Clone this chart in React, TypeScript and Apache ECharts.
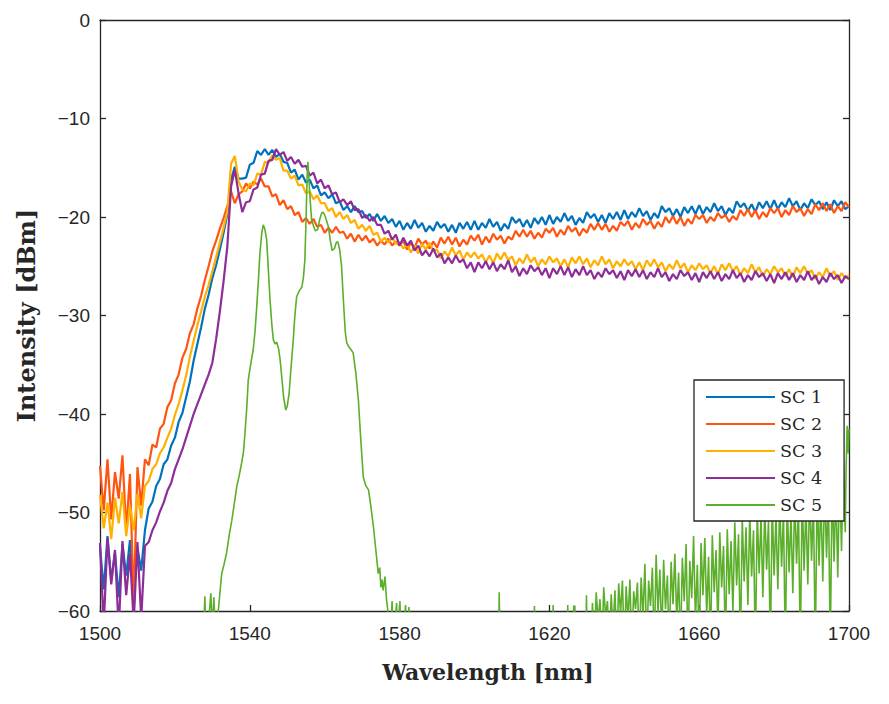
import * as echarts from "echarts";
import { useEffect, useRef } from "react";

// SC 1..4 are sampled every 1 nm from 1500 nm to 1700 nm
const gridStart = 1500;

const sc1 = [
  -53.5, -57.8, -52.4, -56.9, -54.1, -58.6, -53.2, -56.4, -52.8, -57.5,
  -53.6, -55.9, -51.8, -49.6, -48.9, -47.3, -46.6, -45.1, -44.6, -43.2,
  -42.4, -40.8, -39.9, -38.3, -36.7, -34.6, -32.9, -31.2, -29.3, -27.9,
  -26.2, -24.9, -23.3, -21.6, -19.7, -16.2, -14.9, -16.1, -16.1, -16.0,
  -14.7, -14.5, -13.3, -13.7, -13.1, -13.7, -13.2, -13.9, -13.6, -14.4,
  -14.5, -15.5, -15.2, -16.2, -15.7, -16.5, -16.2, -17.1, -16.8, -17.8,
  -17.5, -18.1, -17.7, -18.6, -18.4, -19.3, -18.9, -19.5, -18.9, -19.5,
  -19.4, -20.1, -19.7, -20.4, -19.7, -20.4, -19.9, -20.6, -20.2, -21.0,
  -20.4, -21.3, -20.6, -21.2, -20.3, -21.1, -20.6, -21.5, -20.9, -21.4,
  -20.5, -21.1, -20.7, -21.5, -20.8, -21.6, -20.6, -21.2, -20.5, -21.3,
  -20.4, -21.3, -20.6, -21.1, -20.2, -21.0, -20.5, -21.4, -20.7, -21.2,
  -20.0, -20.6, -20.2, -21.0, -20.3, -21.1, -20.1, -20.7, -20.0, -20.8,
  -19.8, -20.7, -20.0, -20.5, -19.6, -20.4, -19.9, -20.8, -20.1, -20.6,
  -19.5, -20.1, -19.7, -20.5, -19.8, -20.6, -19.6, -20.2, -19.5, -20.3,
  -19.3, -20.2, -19.5, -20.0, -19.1, -19.9, -19.4, -20.3, -19.6, -20.1,
  -18.9, -19.5, -19.1, -19.9, -19.2, -20.0, -19.0, -19.6, -18.9, -19.7,
  -18.8, -19.7, -19.0, -19.5, -18.6, -19.4, -18.9, -19.8, -19.1, -19.6,
  -18.4, -19.0, -18.6, -19.4, -18.7, -19.5, -18.5, -19.1, -18.4, -19.2,
  -18.3, -19.2, -18.5, -19.0, -18.1, -18.9, -18.4, -19.3, -18.6, -19.1,
  -18.2, -18.8, -18.4, -19.2, -18.5, -19.3, -18.3, -18.9, -18.4, -19.2,
  -18.9,
];

const sc2 = [
  -45.3, -49.8, -44.6, -50.7, -45.9, -48.6, -44.2, -51.9, -46.1, -59.4,
  -45.4, -49.3, -44.6, -45.2, -43.1, -43.4, -41.5, -41.0, -39.3, -38.6,
  -36.9, -36.0, -34.3, -33.4, -31.8, -30.9, -29.3, -28.0, -26.4, -25.0,
  -23.5, -22.4, -21.2, -20.1, -18.9, -17.4, -18.6, -17.7, -17.4, -16.6,
  -17.1, -16.4, -16.7, -16.1, -16.9, -16.9, -17.9, -17.7, -18.8, -18.3,
  -19.2, -18.9, -19.8, -19.5, -20.5, -20.1, -20.7, -20.2, -21.0, -20.8,
  -21.6, -21.1, -21.6, -21.0, -21.6, -21.5, -22.2, -21.7, -22.5, -21.8,
  -22.4, -21.9, -22.6, -22.2, -22.9, -22.4, -22.8, -22.2, -22.9, -22.5,
  -22.9, -22.4, -23.3, -22.6, -23.1, -22.2, -22.8, -22.4, -23.2, -22.5,
  -23.1, -22.1, -22.7, -22.0, -22.8, -22.1, -23.0, -22.3, -22.8, -21.9,
  -22.4, -21.8, -22.8, -22.0, -22.6, -21.7, -22.3, -21.9, -22.7, -22.0,
  -22.3, -21.4, -22.0, -21.3, -22.0, -21.4, -22.2, -21.6, -22.1, -21.2,
  -21.6, -21.1, -22.0, -21.3, -21.8, -20.9, -21.5, -21.1, -21.9, -21.2,
  -21.6, -20.7, -21.3, -20.6, -21.3, -20.7, -21.5, -20.9, -21.4, -20.5,
  -20.9, -20.4, -21.3, -20.6, -21.1, -20.2, -20.8, -20.4, -21.2, -20.5,
  -21.0, -20.0, -20.6, -19.9, -20.7, -20.0, -20.9, -20.2, -20.7, -19.8,
  -20.2, -19.8, -20.6, -20.0, -20.4, -19.6, -20.1, -19.8, -20.5, -19.9,
  -20.3, -19.3, -19.9, -19.2, -20.0, -19.3, -20.2, -19.5, -20.0, -19.1,
  -19.6, -19.1, -20.0, -19.3, -19.8, -18.9, -19.5, -19.1, -19.9, -19.2,
  -19.7, -18.7, -19.3, -18.6, -19.4, -18.7, -19.6, -18.9, -19.4, -18.5,
  -19.0,
];

const sc3 = [
  -48.2, -51.6, -49.0, -52.7, -48.5, -51.1, -47.9, -52.4, -49.3, -51.8,
  -48.1, -50.6, -47.3, -46.8, -45.6, -45.1, -44.0, -43.4, -42.4, -41.5,
  -40.1, -39.0, -37.6, -36.1, -34.2, -32.6, -31.0, -29.6, -28.1, -26.9,
  -25.5, -24.1, -22.6, -21.1, -19.4, -14.6, -13.8, -16.4, -17.2, -17.4,
  -16.6, -16.8, -15.6, -15.7, -14.4, -14.5, -13.7, -14.2, -14.0, -15.3,
  -15.3, -16.1, -15.8, -16.8, -16.7, -17.6, -17.4, -18.2, -17.8, -18.6,
  -18.6, -19.4, -19.1, -20.0, -19.5, -20.2, -19.8, -20.6, -20.3, -21.2,
  -20.8, -21.4, -20.9, -21.8, -21.6, -22.5, -22.1, -22.6, -22.1, -22.7,
  -22.6, -23.2, -22.8, -23.6, -22.9, -23.7, -22.7, -23.3, -22.6, -23.4,
  -23.3, -24.2, -23.5, -24.0, -23.1, -23.9, -23.4, -24.3, -23.6, -24.1,
  -23.6, -24.2, -23.8, -24.6, -23.9, -24.7, -23.7, -24.3, -23.6, -24.4,
  -24.0, -24.9, -24.2, -24.7, -23.8, -24.6, -24.1, -25.0, -24.3, -24.8,
  -24.0, -24.6, -24.2, -25.0, -24.3, -25.1, -24.1, -24.7, -24.0, -24.8,
  -24.2, -25.1, -24.4, -24.9, -24.0, -24.8, -24.3, -25.2, -24.5, -25.0,
  -24.3, -24.9, -24.5, -25.3, -24.6, -25.4, -24.4, -25.0, -24.3, -25.1,
  -24.6, -25.5, -24.8, -25.3, -24.4, -25.2, -24.7, -25.6, -24.9, -25.4,
  -24.7, -25.3, -24.9, -25.7, -25.0, -25.8, -24.8, -25.4, -24.7, -25.5,
  -25.0, -25.9, -25.2, -25.7, -24.8, -25.6, -25.1, -26.0, -25.3, -25.8,
  -25.0, -25.6, -25.2, -26.0, -25.3, -26.1, -25.1, -25.7, -25.0, -25.8,
  -25.4, -26.3, -25.6, -26.1, -25.2, -26.0, -25.5, -26.4, -25.7, -26.2,
  -25.9,
];

const sc4 = [
  -53.1, -61.5, -52.6, -57.3, -53.8, -62.0, -52.9, -58.4, -54.2, -61.2,
  -53.0, -60.8, -53.4, -53.0, -51.8, -51.0, -49.9, -49.0, -47.8, -47.0,
  -45.6, -44.6, -43.6, -42.4, -41.2, -40.0, -39.0, -38.0, -37.0, -36.0,
  -34.8, -32.4, -29.6, -26.5, -23.0, -16.9, -15.2, -17.6, -19.5, -18.5,
  -18.4, -17.2, -17.0, -15.7, -15.6, -14.3, -14.2, -13.1, -13.7, -13.4,
  -14.3, -13.9, -14.6, -14.2, -14.9, -14.8, -15.8, -15.5, -16.6, -16.2,
  -17.1, -16.8, -17.7, -17.5, -18.5, -18.2, -18.8, -18.4, -19.3, -19.2,
  -20.1, -19.8, -20.4, -20.0, -20.8, -20.8, -21.7, -21.4, -22.3, -21.8,
  -22.9, -22.1, -22.9, -22.4, -23.4, -22.9, -23.9, -23.4, -24.0, -23.2,
  -24.1, -23.7, -24.7, -24.1, -24.7, -23.9, -24.6, -24.3, -25.2, -24.6,
  -25.6, -24.6, -25.2, -24.5, -25.3, -24.6, -25.5, -24.8, -25.3, -24.4,
  -25.6, -25.0, -26.0, -25.2, -25.8, -24.9, -25.5, -25.1, -25.9, -25.2,
  -26.2, -25.2, -25.8, -25.0, -25.9, -25.1, -26.1, -25.3, -25.9, -25.0,
  -25.9, -25.4, -26.3, -25.6, -26.1, -25.2, -25.8, -25.4, -26.2, -25.5,
  -26.4, -25.4, -26.0, -25.3, -26.1, -25.4, -26.3, -25.6, -26.1, -25.2,
  -26.1, -25.6, -26.5, -25.8, -26.3, -25.4, -26.0, -25.6, -26.4, -25.7,
  -26.6, -25.6, -26.2, -25.5, -26.3, -25.6, -26.5, -25.8, -26.3, -25.4,
  -26.2, -25.7, -26.6, -25.9, -26.4, -25.5, -26.1, -25.7, -26.5, -25.8,
  -26.7, -25.7, -26.3, -25.6, -26.4, -25.7, -26.6, -25.9, -26.4, -25.5,
  -26.4, -25.9, -26.8, -26.1, -26.6, -25.7, -26.3, -25.9, -26.7, -26.0,
  -26.3,
];

// SC 5: [wavelength nm, dBm]; values under -60 fall below the frame
const sc5: [number, number][] = [
  [1500, -64], [1527.5, -64], [1528, -58.5], [1528.4, -64], [1529.6, -58.2],
  [1530, -62], [1530.4, -58.6], [1530.8, -62], [1531.6, -59.9], [1532.5, -56.2],
  [1533.1, -55.3], [1533.8, -54.1], [1534.5, -52.3], [1535.2, -50.8], [1535.9, -49.0],
  [1536.5, -47.4], [1537.2, -46.2], [1537.8, -45.0], [1538.3, -43.9], [1538.7, -42.0],
  [1539.2, -39.3], [1539.6, -36.5], [1540.3, -34.8], [1540.9, -33.5], [1541.4, -31.6],
  [1541.8, -29.4], [1542.3, -26.4], [1542.7, -23.7], [1543.2, -21.6], [1543.6, -20.8],
  [1544.0, -21.2], [1544.5, -22.3], [1544.9, -25.0], [1545.4, -28.4], [1545.9, -31.0],
  [1546.3, -32.5], [1546.8, -32.9], [1547.2, -32.7], [1547.7, -33.4], [1548.1, -34.5],
  [1548.6, -36.5], [1549.0, -38.2], [1549.6, -39.6], [1550.0, -39.2], [1550.5, -37.9],
  [1551.0, -35.3], [1551.6, -32.5], [1552.0, -30.2], [1552.5, -28.1], [1553.2, -27.5],
  [1553.9, -27.1], [1554.3, -26.2], [1554.7, -24.4], [1555.0, -20.5], [1555.3, -16.0],
  [1555.5, -14.4], [1555.7, -15.5], [1556.0, -17.6], [1556.5, -20.3], [1557.0, -20.9],
  [1557.5, -21.4], [1558.1, -21.3], [1558.7, -20.2], [1559.2, -19.6], [1559.6, -19.5],
  [1560.1, -19.9], [1560.6, -20.5], [1561.0, -21.0], [1561.5, -22.4], [1562.0, -23.4],
  [1562.6, -23.2], [1563.1, -22.6], [1563.5, -22.5], [1564.0, -23.3], [1564.5, -25.0],
  [1565.0, -28.5], [1565.5, -31.7], [1565.9, -32.8], [1566.5, -33.2], [1567.1, -33.5],
  [1567.6, -33.8], [1568.3, -35.8], [1569.0, -38.6], [1569.6, -42.4], [1570.3, -46.4],
  [1571.0, -47.3], [1571.7, -47.7], [1572.3, -49.3], [1573.0, -51.4], [1573.6, -53.6],
  [1574.3, -56.2], [1574.7, -55.6], [1575.0, -57.6], [1575.3, -56.8], [1575.6, -57.9],
  [1576.1, -56.5], [1576.5, -58.8], [1577.0, -60.4], [1577.4, -64], [1578.0, -59.0],
  [1578.3, -64], [1579.2, -59.2], [1579.5, -64], [1580.1, -59.0], [1580.4, -64],
  [1581.6, -59.4], [1581.9, -64], [1582.5, -59.6], [1582.8, -64], [1606.4, -64],
  [1606.6, -58.1], [1606.8, -64], [1615.8, -64], [1616, -59.5], [1616.2, -64],
  [1620.8, -64], [1621, -59.4], [1621.2, -64], [1624.7, -64], [1624.9, -59.4],
  [1625.1, -64], [1626.3, -64], [1626.5, -59.5], [1626.8, -59.5], [1627, -64],
  [1629.7, -64], [1629.9, -58.4], [1630.1, -64], [1631, -64], [1631.5, -59.2],
  [1632, -64], [1632.5, -58.1], [1633, -61], [1633.5, -58.8], [1634, -64],
  [1634.5, -57.6], [1635, -60.5], [1635.5, -59.0], [1636, -64], [1636.5, -58.3],
  [1637, -62], [1637.5, -57.9], [1638, -64], [1638.5, -57.2], [1639, -60.3],
  [1639.5, -56.9], [1640, -64], [1640.5, -57.5], [1641, -61], [1641.5, -56.8],
  [1642, -64], [1642.5, -58.0], [1643, -59.8], [1643.5, -57.1], [1644, -64],
  [1644.5, -56.6], [1645, -60.6], [1645.5, -55.2], [1646, -64], [1646.5, -56.9],
  [1647, -59.5], [1647.5, -55.6], [1648, -64], [1648.5, -54.3], [1649, -60.2],
  [1649.5, -55.8], [1650, -63], [1650.5, -54.8], [1651, -59.8], [1651.5, -56.4],
  [1652, -64], [1652.5, -55.0], [1653, -59.3], [1653.5, -54.2], [1654, -61],
  [1654.5, -56.1], [1655, -64], [1655.5, -54.6], [1656, -59.0], [1656.5, -53.2],
  [1657, -64], [1657.5, -54.9], [1658, -58.7], [1658.5, -52.4], [1659, -61],
  [1659.5, -55.3], [1660, -64], [1660.5, -53.1], [1661, -58.4], [1661.5, -52.6],
  [1662, -60.5], [1662.5, -54.5], [1663, -64], [1663.5, -52.3], [1664, -58.1],
  [1664.5, -53.8], [1665, -62], [1665.5, -52.0], [1666, -57.6], [1666.5, -53.4],
  [1667, -64], [1667.5, -51.7], [1668, -58.3], [1668.5, -52.9], [1669, -60.2],
  [1669.5, -51.0], [1670, -57.4], [1670.5, -52.2], [1671, -64], [1671.5, -50.6],
  [1672, -57.0], [1672.5, -51.5], [1673, -59.4], [1673.5, -50.2], [1674, -56.5],
  [1674.5, -51.8], [1675, -64], [1675.5, -49.8], [1676, -56.2], [1676.5, -50.5],
  [1677, -58.6], [1677.5, -49.4], [1678, -55.8], [1678.5, -50.9], [1679, -64],
  [1679.5, -49.1], [1680, -56.4], [1680.5, -50.3], [1681, -57.8], [1681.5, -48.8],
  [1682, -55.5], [1682.5, -49.9], [1683, -64], [1683.5, -48.5], [1684, -56.1],
  [1684.5, -50.1], [1685, -58.2], [1685.5, -48.2], [1686, -55.2], [1686.5, -49.5],
  [1687, -64], [1687.5, -47.9], [1688, -55.9], [1688.5, -49.2], [1689, -57.3],
  [1689.5, -47.6], [1690, -54.9], [1690.5, -48.8], [1691, -64], [1691.5, -47.3],
  [1692, -55.4], [1692.5, -48.4], [1693, -57.0], [1693.5, -46.9], [1694, -54.6],
  [1694.5, -48.1], [1695, -64], [1695.5, -46.5], [1696, -55.0], [1696.5, -47.7],
  [1697, -56.6], [1697.5, -45.8], [1698, -53.9], [1698.5, -44.6], [1699, -52.0],
  [1699.2, -46.0], [1699.5, -41.2], [1699.8, -44.0], [1700, -41.5],
];

const seriesNames = ["SC 1", "SC 2", "SC 3", "SC 4", "SC 5"];
const seriesColors = ["#0072BD", "#FF5511", "#FFB000", "#8C2D98", "#5CAF2B"];
const xTicks = [1500, 1540, 1580, 1620, 1660, 1700];

const axisColor = "#262626";

function onGrid(values: number[]): [number, number][] {
  return values.map((v, i) => [gridStart + i, v]);
}

export default function App() {
  const chartRef = useRef<HTMLDivElement>(null);

  useEffect(() => {
    document.body.style.margin = "0";
    const chart = echarts.init(chartRef.current!, null, { renderer: "svg" });

    const frameLine = { show: true, onZero: false, lineStyle: { color: axisColor, width: 1.3 } };
    const tickStyle = { color: axisColor, width: 1.3 };
    const titleStyle = {
      fontFamily: "DejaVu Serif",
      fontWeight: "bold" as const,
      fontSize: 22,
      color: axisColor,
    };
    const data = [onGrid(sc1), onGrid(sc2), onGrid(sc3), onGrid(sc4), sc5];

    chart.setOption({
      animation: false,
      backgroundColor: "#ffffff",
      grid: { left: 100, right: 40, top: 20, bottom: 93 },
      legend: {
        data: seriesNames,
        orient: "vertical",
        left: 694,
        top: 380,
        padding: [8, 22, 7, 12],
        itemWidth: 69,
        itemHeight: 2,
        itemGap: 9,
        icon: "rect",
        backgroundColor: "#ffffff",
        borderColor: axisColor,
        borderWidth: 1.3,
        borderRadius: 0,
        selectedMode: false,
        textStyle: {
          fontFamily: "DejaVu Serif",
          fontSize: 17.5,
          lineHeight: 17,
          color: axisColor,
        },
      },
      xAxis: [
        {
          type: "value",
          position: "bottom",
          min: 1500,
          max: 1700,
          axisLine: frameLine,
          axisTick: { inside: true, length: 6, lineStyle: tickStyle, customValues: xTicks },
          axisLabel: {
            customValues: xTicks,
            fontFamily: "Liberation Sans",
            fontSize: 19,
            color: axisColor,
            margin: 13,
            formatter: (v: number) => String(v),
          },
          splitLine: { show: false },
          name: "Wavelength [nm]",
          nameLocation: "middle",
          nameGap: 50,
          nameTextStyle: { ...titleStyle, padding: [0, 0, 0, 27] },
        },
        {
          type: "value",
          position: "top",
          min: 1500,
          max: 1700,
          axisLine: frameLine,
          axisTick: { show: false },
          axisLabel: { show: false },
          splitLine: { show: false },
        },
      ],
      yAxis: [
        {
          type: "value",
          position: "left",
          min: -60,
          max: 0,
          interval: 10,
          axisLine: frameLine,
          axisTick: { inside: true, length: 6, lineStyle: tickStyle },
          axisLabel: {
            fontFamily: "Liberation Sans",
            fontSize: 19,
            color: axisColor,
            margin: 10,
            formatter: (v: number) => (v < 0 ? "\u2212" + Math.abs(v) : String(v)),
          },
          splitLine: { show: false },
          name: "Intensity [dBm]",
          nameLocation: "middle",
          nameRotate: 90,
          nameGap: 62,
          nameTextStyle: { ...titleStyle, fontSize: 24 },
        },
        {
          type: "value",
          position: "right",
          min: -60,
          max: 0,
          interval: 10,
          axisLine: frameLine,
          axisTick: { inside: true, length: 6, lineStyle: tickStyle },
          axisLabel: { show: false },
          splitLine: { show: false },
        },
      ],
      series: seriesNames.map((name, i) => ({
        name,
        type: "line",
        data: data[i],
        xAxisIndex: 0,
        yAxisIndex: 0,
        symbol: "none",
        showSymbol: false,
        clip: true,
        color: seriesColors[i],
        lineStyle: { color: seriesColors[i], width: i < 4 ? 2.2 : 1.6 },
        emphasis: { disabled: true },
      })),
    });

    return () => chart.dispose();
  }, []);

  return <div ref={chartRef} style={{ width: 889, height: 704 }} />;
}
